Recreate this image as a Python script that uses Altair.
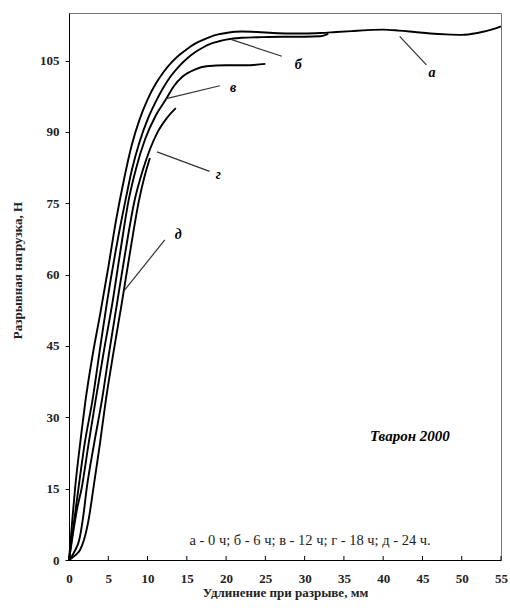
import altair as alt
import pandas as pd

# ---- data ----
x_a = [0, 0.4, 0.8, 1.2, 1.6, 2.1, 3, 4, 5, 6, 7, 8, 9, 10, 11, 12, 13, 14, 15, 16, 17, 18, 19, 20, 22, 24, 26, 28, 30, 32, 34, 36, 38, 40, 42, 44, 46, 48, 50, 52, 54, 55]
y_a = [0, 8, 15.5, 21.5, 27, 33.5, 43, 52, 61.5, 71.5, 80, 87.3, 92.7, 96.8, 100, 102.5, 104.5, 106.1, 107.4, 108.5, 109.3, 110, 110.5, 110.8, 111.1, 111.0, 110.8, 110.7, 110.7, 110.8, 111.0, 111.2, 111.4, 111.5, 111.3, 111.0, 110.7, 110.5, 110.4, 110.8, 111.6, 112.2]

x_b = [0, 0.4, 0.8, 1.2, 2, 3, 4, 4.8, 6, 7.2, 8, 9, 10, 11, 12, 13, 14, 15, 16, 17, 18, 19, 20, 22, 24, 27, 30, 32, 33]
y_b = [0, 5, 10, 15, 24.5, 33.7, 45, 53.8, 65.5, 75.7, 82, 88, 92.6, 96.2, 99.3, 101.8, 103.8, 105.4, 106.7, 107.7, 108.5, 109, 109.4, 109.8, 109.9, 110, 110, 110.1, 110.6]

x_v = [0, 0.5, 1.0, 1.6, 2.5, 3.4, 4.5, 5.5, 6.5, 7.6, 8.6, 9.7, 11, 12.4, 13.3, 14.5, 16, 17.5, 20, 22.5, 25]
y_v = [0, 5.5, 10.5, 15, 24.5, 33.7, 44.5, 53.8, 64.5, 75.7, 82.7, 88.5, 93.3, 97, 99.5, 101.7, 103.1, 103.8, 104, 104, 104.3]

x_g = [0, 0.4, 0.8, 1.3, 1.8, 2.25, 3.2, 4.2, 5.1, 6.1, 7.2, 8.3, 9.5, 11.2, 12.5, 13.6]
y_g = [0, 0.9, 2.1, 4.2, 9, 15, 24.5, 33.7, 43.5, 53.8, 65, 75.2, 82.5, 89.7, 93, 95]

x_d = [0, 0.5, 1.0, 1.4, 1.9, 2.5, 3.1, 3.9, 4.7, 5.7, 6.7, 7.8, 8.9, 9.6, 10.3]
y_d = [0, 0.6, 1.3, 2.1, 4.2, 8.5, 15, 24, 33.7, 44, 53.8, 65, 75.5, 80.5, 84.5]

series_names = ["а", "б", "в", "г", "д"]
series_x = [x_a, x_b, x_v, x_g, x_d]
series_y = [y_a, y_b, y_v, y_g, y_d]

# curve labels and leader lines (data coordinates)
lab_text = ["а", "б", "в", "г", "д"]
lab_x = [46.2, 29.2, 20.9, 19.0, 13.9]
lab_y = [102.4, 104.1, 99.2, 81.0, 68.4]
lead_x1 = [42.1, 20.7, 12.4, 11.2, 7.1]
lead_y1 = [110.1, 109.4, 97.0, 85.8, 56.8]
lead_x2 = [45.5, 27.1, 19.2, 17.9, 12.2]
lead_y2 = [104.1, 105.9, 99.7, 81.7, 67.3]

x_ticks = [0, 5, 10, 15, 20, 25, 30, 35, 40, 45, 50, 55]
y_ticks = [0, 15, 30, 45, 60, 75, 90, 105]

legend_text = "а - 0 ч; б - 6 ч; в - 12 ч; г - 18 ч; д - 24 ч."
brand_text = "Тварон 2000"

W, H = 432, 547
FONT = "Liberation Serif, Times New Roman, Times, serif"

rows = []
for name, xs, ys in zip(series_names, series_x, series_y):
    for i, (xv, yv) in enumerate(zip(xs, ys)):
        rows.append({"s": name, "x": xv, "y": yv, "i": i})
curves = pd.DataFrame(rows)

xs = alt.Scale(domain=[0, 55], nice=False, zero=False)
ys = alt.Scale(domain=[0, 115], nice=False, zero=False)

x_axis = alt.Axis(title="Удлинение при разрыве, мм", values=x_ticks, ticks=False, labelPadding=12,
                  labelOverlap=False, labelFlush=False, titlePadding=1, grid=False)
y_axis = alt.Axis(title="Разрывная нагрузка, Н", values=y_ticks, tickSize=4, labelPadding=6,
                  labelOverlap=False, labelFlush=False, grid=False,
                  titleX=-58, titleY=257, titleAlign="center", titleBaseline="top")


def X(field="x:Q"):
    return alt.X(field, scale=xs, axis=x_axis)


def Y(field="y:Q"):
    return alt.Y(field, scale=ys, axis=y_axis)


lines = alt.Chart(curves).mark_line(color="black", strokeWidth=1.9, interpolate="monotone").encode(
    x=X(), y=Y(), detail="s:N", order="i:Q")

leads_df = pd.DataFrame({"x": lead_x1, "y": lead_y1, "x2": lead_x2, "y2": lead_y2})
leads = alt.Chart(leads_df).mark_rule(color="#333", strokeWidth=1.2).encode(
    x=X(), y=Y(), x2="x2:Q", y2="y2:Q")

labs_df = pd.DataFrame({"t": lab_text, "x": lab_x, "y": lab_y})
labs = alt.Chart(labs_df).mark_text(font=FONT, fontSize=14, fontStyle="italic", fontWeight="bold",
                                    color="black").encode(x=X(), y=Y(), text="t:N")

brand = alt.Chart(pd.DataFrame({"t": [brand_text], "x": [43.4], "y": [26.1]})).mark_text(
    font=FONT, fontSize=15, fontStyle="italic", fontWeight="bold", color="black").encode(
    x=X(), y=Y(), text="t:N")

legend = alt.Chart(pd.DataFrame({"t": [legend_text], "x": [30.7], "y": [4.0]})).mark_text(
    font=FONT, fontSize=14.5, color="#222").encode(x=X(), y=Y(), text="t:N")

xt = alt.Chart(pd.DataFrame({"x": x_ticks[1:]})).mark_rule(color="black", strokeWidth=1).encode(
    x=X(), y=alt.value(H), y2=alt.value(H - 4))

chart = alt.layer(lines, leads, labs, brand, legend, xt).properties(
    width=W, height=H,
    autosize=alt.AutoSizeParams(type="none"),
    padding={"left": 69, "top": 13, "right": 9, "bottom": 48},
    background="white",
).configure_view(stroke="#777", strokeWidth=1).configure_axis(
    domainColor="black", tickColor="black", labelFont=FONT, titleFont=FONT,
    labelFontSize=13, titleFontSize=13, labelColor="#222", titleColor="#222",
    labelFontWeight="bold", titleFontWeight="bold",
)

chart.save("out.html", embed_options={"renderer": "svg", "actions": False})
